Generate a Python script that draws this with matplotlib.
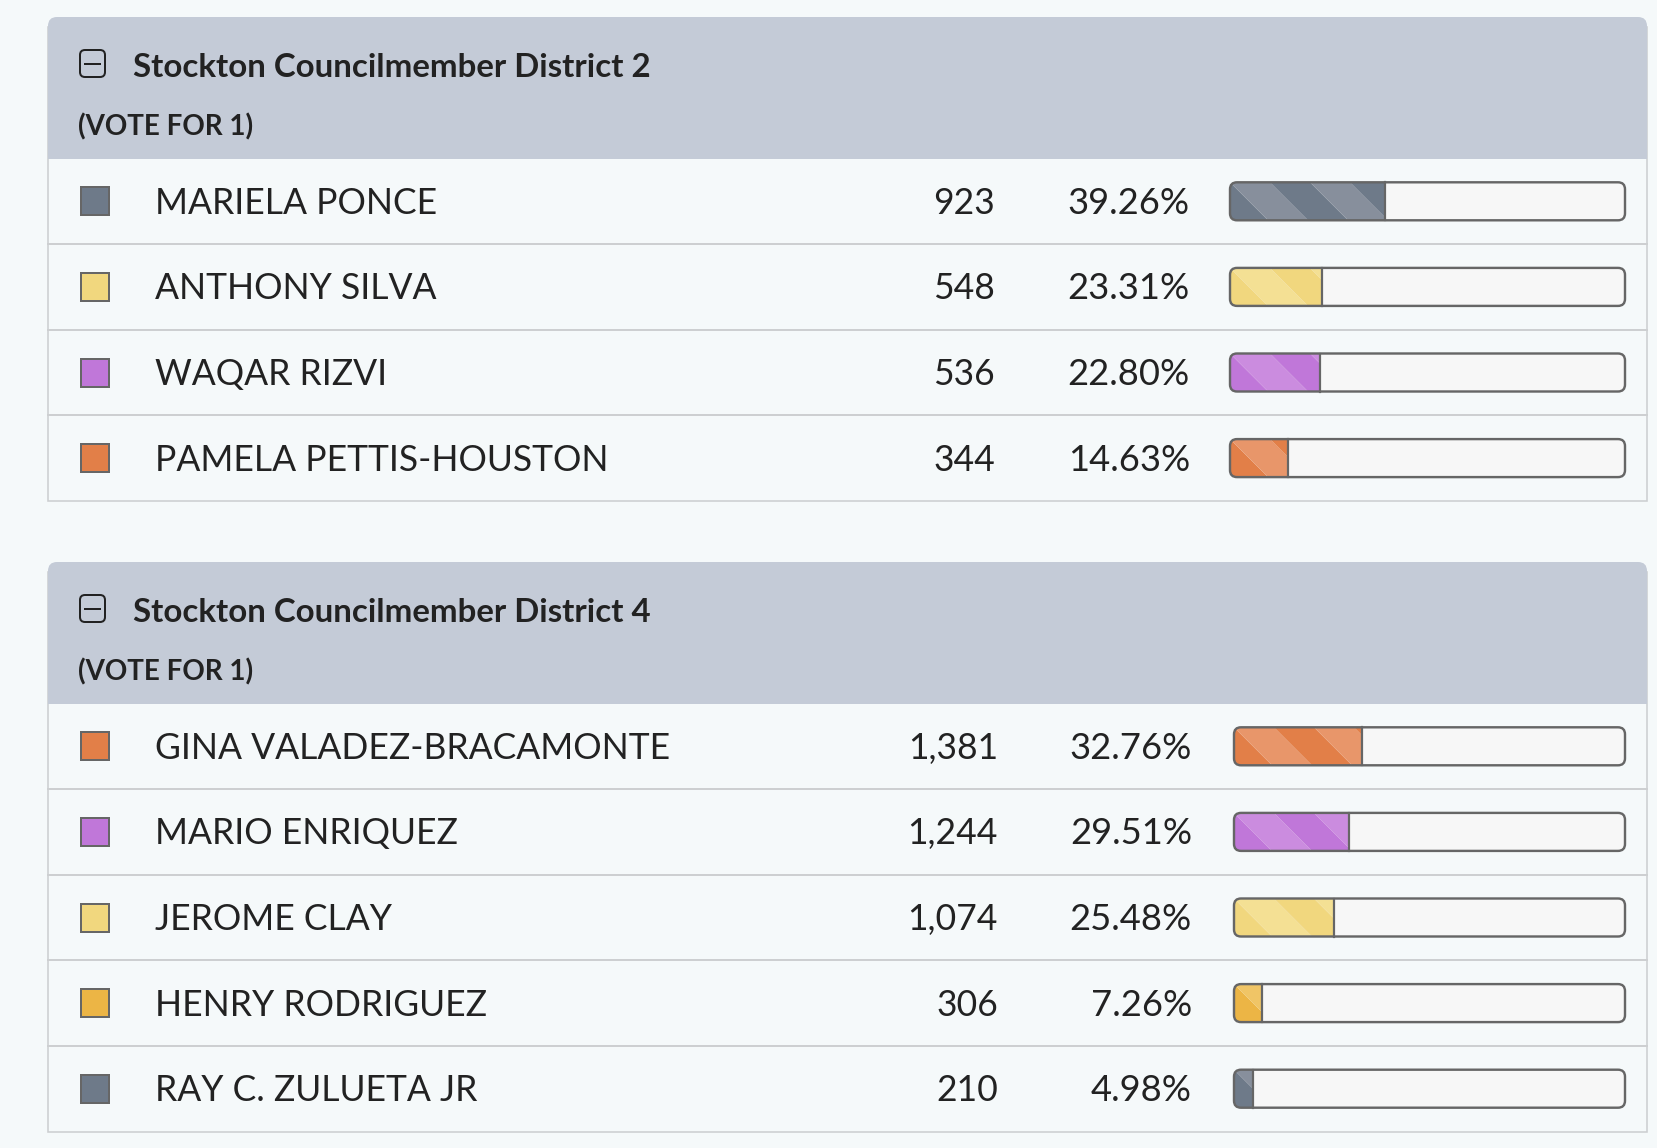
import matplotlib
matplotlib.use("Agg")
import matplotlib.pyplot as plt
from matplotlib.patches import FancyBboxPatch, Rectangle, Polygon

# ---- data ----
titles = ["Stockton Councilmember District 2", "Stockton Councilmember District 4"]
subtitle = "(VOTE FOR 1)"

d2_names = ["MARIELA PONCE", "ANTHONY SILVA", "WAQAR RIZVI", "PAMELA PETTIS-HOUSTON"]
d2_votes = [923, 548, 536, 344]
d2_pct = [39.26, 23.31, 22.80, 14.63]
d2_colors = ["gray", "yellow", "purple", "orange"]

d4_names = ["GINA VALADEZ-BRACAMONTE", "MARIO ENRIQUEZ", "JEROME CLAY",
            "HENRY RODRIGUEZ", "RAY C. ZULUETA JR"]
d4_votes = [1381, 1244, 1074, 306, 210]
d4_pct = [32.76, 29.51, 25.48, 7.26, 4.98]
d4_colors = ["orange", "purple", "yellow", "gold", "gray"]

# (base, lighter stripe)
palette = {
    "gray": ("#6e7a89", "#878f9c"),
    "yellow": ("#f1d77e", "#f4e094"),
    "purple": ("#c077d9", "#cb8cdf"),
    "orange": ("#e27f48", "#e8966a"),
    "gold": ("#ecb545", "#f0c566"),
}

W, H = 1658, 1148
BG = "#f5f9fa"
HEADER = "#c4cbd7"
LINE = "#cdcfd1"
TEXT = "#222222"

fig = plt.figure(figsize=(W / 100, H / 100), dpi=100)
fig.patch.set_facecolor(BG)
ax = fig.add_axes([0, 0, 1, 1])
ax.set_xlim(0, W)
ax.set_ylim(H, 0)
ax.axis("off")

PX = 72 / 100  # points per pixel


def draw_bar(ax, left, right, yc, pct, cname):
    h = 38
    top = yc - h / 2
    dark, light = palette[cname]
    fill_end = left + (right - left) * pct / 100.0
    outer = FancyBboxPatch((left, top), right - left, h,
                           boxstyle="round,pad=0,rounding_size=7",
                           fc="#f7f7f7", ec="none", zorder=3)
    ax.add_patch(outer)
    band = 40
    k = -2
    while left + band * k < fill_end + band:
        x0 = left + band * k
        poly = Polygon([(x0, top), (x0 + band, top), (x0 + band + h, top + h), (x0 + h, top + h)],
                       closed=True, fc=light if k % 2 == 0 else dark, ec="none", zorder=4)
        ax.add_patch(poly)
        poly.set_clip_path(outer)
        k += 1
    cover = Rectangle((fill_end, top - 2), right - fill_end + 2, h + 4, fc="#f7f7f7", ec="none", zorder=5)
    ax.add_patch(cover)
    cover.set_clip_path(outer)
    ax.plot([fill_end, fill_end], [top, top + h], color="#666666", lw=2.2 * PX, zorder=6)
    ax.add_patch(FancyBboxPatch((left, top), right - left, h,
                                boxstyle="round,pad=0,rounding_size=7",
                                fc="none", ec="#666666", lw=2.4 * PX, zorder=7))


def draw_panel(ax, top, title, names, votes, pct, colors, cols):
    left, right = 48, 1647
    head_h = 141.5
    row_h = 85.6
    vote_x, pct_x, bar_l, bar_r = cols
    n = len(names)
    bottom = top + head_h + row_h * n

    # outline
    ax.add_patch(Rectangle((left, top + 10), right - left, bottom - top - 10,
                           fc=BG, ec=LINE, lw=1.6 * PX, zorder=1))
    # header with rounded top corners
    ax.add_patch(FancyBboxPatch((left, top), right - left, head_h,
                                boxstyle="round,pad=0,rounding_size=9",
                                fc=HEADER, ec="none", zorder=2))
    ax.add_patch(Rectangle((left, top + 20), right - left, head_h - 20,
                           fc=HEADER, ec="none", zorder=2))

    # collapse icon
    ax.add_patch(FancyBboxPatch((80, top + 33), 25, 27,
                                boxstyle="round,pad=0,rounding_size=5",
                                fc="none", ec="#222222", lw=2.0 * PX, zorder=3))
    ax.plot([85, 100], [top + 46.5, top + 46.5], color="#222222", lw=2.0 * PX, zorder=3)

    ax.text(133, top + 60, title, fontsize=23.8, fontweight="bold",
            color=TEXT, ha="left", va="baseline", zorder=3)
    ax.text(78, top + 118, subtitle, fontsize=20, fontweight="bold",
            color=TEXT, ha="left", va="baseline", zorder=3)

    for i in range(n):
        r_top = top + head_h + row_h * i
        yc = r_top + row_h / 2
        if i > 0:
            ax.plot([left, right], [r_top, r_top], color=LINE, lw=2.0 * PX, zorder=2)
        dark, light = palette[colors[i]]
        ax.add_patch(Rectangle((81, yc - 14), 28, 28, fc=dark, ec="#666666",
                               lw=2.0 * PX, zorder=3))
        base = yc + 12.5
        ax.text(155, base, names[i], fontsize=25.6, color=TEXT,
                ha="left", va="baseline", zorder=3)
        ax.text(vote_x, base, f"{votes[i]:,}", fontsize=25.6, color=TEXT,
                ha="right", va="baseline", zorder=3)
        ax.text(pct_x, base, f"{pct[i]:.2f}%", fontsize=26.2, color=TEXT,
                ha="right", va="baseline", zorder=3)
        draw_bar(ax, bar_l, bar_r, yc, pct[i], colors[i])


plt.rcParams["font.family"] = ["Lato", "DejaVu Sans"]

draw_panel(ax, 17, titles[0], d2_names, d2_votes, d2_pct, d2_colors,
           (995, 1190, 1230, 1625))
draw_panel(ax, 562, titles[1], d4_names, d4_votes, d4_pct, d4_colors,
           (998, 1192, 1234, 1625))

fig.savefig("out.png", dpi=100, facecolor=BG)
